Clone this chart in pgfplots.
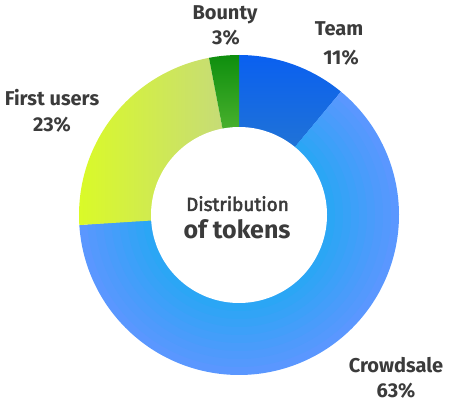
\documentclass[border=0pt]{standalone}
\usepackage{pgfplots}
\pgfplotsset{compat=1.18}
\usepackage{fontspec}
\setmainfont{Fira Sans}
\newfontfamily\fmed{Fira Sans}[FakeBold=2.5]
\definecolor{txt}{HTML}{3B3B3B}
\definecolor{teamtop}{HTML}{0A60F0}
\definecolor{teambot}{HTML}{3080C4}
\definecolor{crin}{HTML}{26A8F4}
\definecolor{crout}{HTML}{5C96FF}
\definecolor{fuleft}{HTML}{DAFA28}
\definecolor{furight}{HTML}{C4D880}
\definecolor{botop}{HTML}{0E8E0E}
\definecolor{bobot}{HTML}{8CD850}
% data (percent)
\def\vTeam{11}
\def\vCrowd{63}
\def\vFirst{23}
\def\vBounty{3}
\pgfmathsetmacro\aA{90}
\pgfmathsetmacro\aB{\aA-3.6*\vTeam}
\pgfmathsetmacro\aC{\aB-3.6*\vCrowd}
\pgfmathsetmacro\aD{\aC-3.6*\vFirst}
\pgfmathsetmacro\aE{\aD-3.6*\vBounty}
% Crowdsale slice drawn in thin bands (radial gradient)
\newcommand\crband[2]{\addplot[draw=none, fill=crin!#2!crout, domain=\aC:\aB, samples=150, variable=\t]
  ({239+#1*cos(\t)},{192+#1*sin(\t)}) -- (axis cs:239,192) -- cycle;}
\begin{document}
\begin{tikzpicture}
\begin{axis}[
  width=449pt, height=407pt, scale only axis,
  xmin=0, xmax=449, ymin=0, ymax=407,
  hide axis, clip=false,
]
\addplot[draw=none] coordinates {(0,0) (449,407)};
\addplot[draw=none, top color=teamtop, bottom color=teambot, domain=\aB:\aA, samples=60, variable=\t]
  ({239+160*cos(\t)},{192+160*sin(\t)}) -- (axis cs:239,192) -- cycle;
\crband{160}{3}
\crband{152}{14}
\crband{144}{25}
\crband{136}{36}
\crband{128}{47}
\crband{120}{58}
\crband{112}{69}
\crband{104}{80}
\crband{96}{91}
\addplot[draw=none, left color=fuleft, right color=furight, domain=\aD:\aC, samples=80, variable=\t]
  ({239+160*cos(\t)},{192+160*sin(\t)}) -- (axis cs:239,192) -- cycle;
\addplot[draw=none, top color=botop, bottom color=bobot, domain=\aE:\aD, samples=20, variable=\t]
  ({239+160*cos(\t)},{192+160*sin(\t)}) -- (axis cs:239,192) -- cycle;
\addplot[draw=none, fill=white, domain=0:360, samples=180, variable=\t]
  ({239+88*cos(\t)},{192+88*sin(\t)}) -- cycle;
% labels
\begin{scope}[every node/.style={text=txt, font=\fontsize{20}{24}\selectfont\bfseries, anchor=base, inner sep=0pt}]
\node at (axis cs:225,387) {Bounty};
\node at (axis cs:226,362) {3\%};
\node at (axis cs:339,371) {Team};
\node at (axis cs:341,342) {11\%};
\node at (axis cs:52,301) {First users};
\node at (axis cs:52,275) {23\%};
\node at (axis cs:396,35) {Crowdsale};
\node at (axis cs:396,10) {63\%};
\node[font=\fontsize{19}{23}\fmed] at (axis cs:237.5,196) {Distribution};
\node[font=\fontsize{25}{29}\selectfont\bfseries] at (axis cs:237,168) {of tokens};
\end{scope}
\end{axis}
\end{tikzpicture}
\end{document}
